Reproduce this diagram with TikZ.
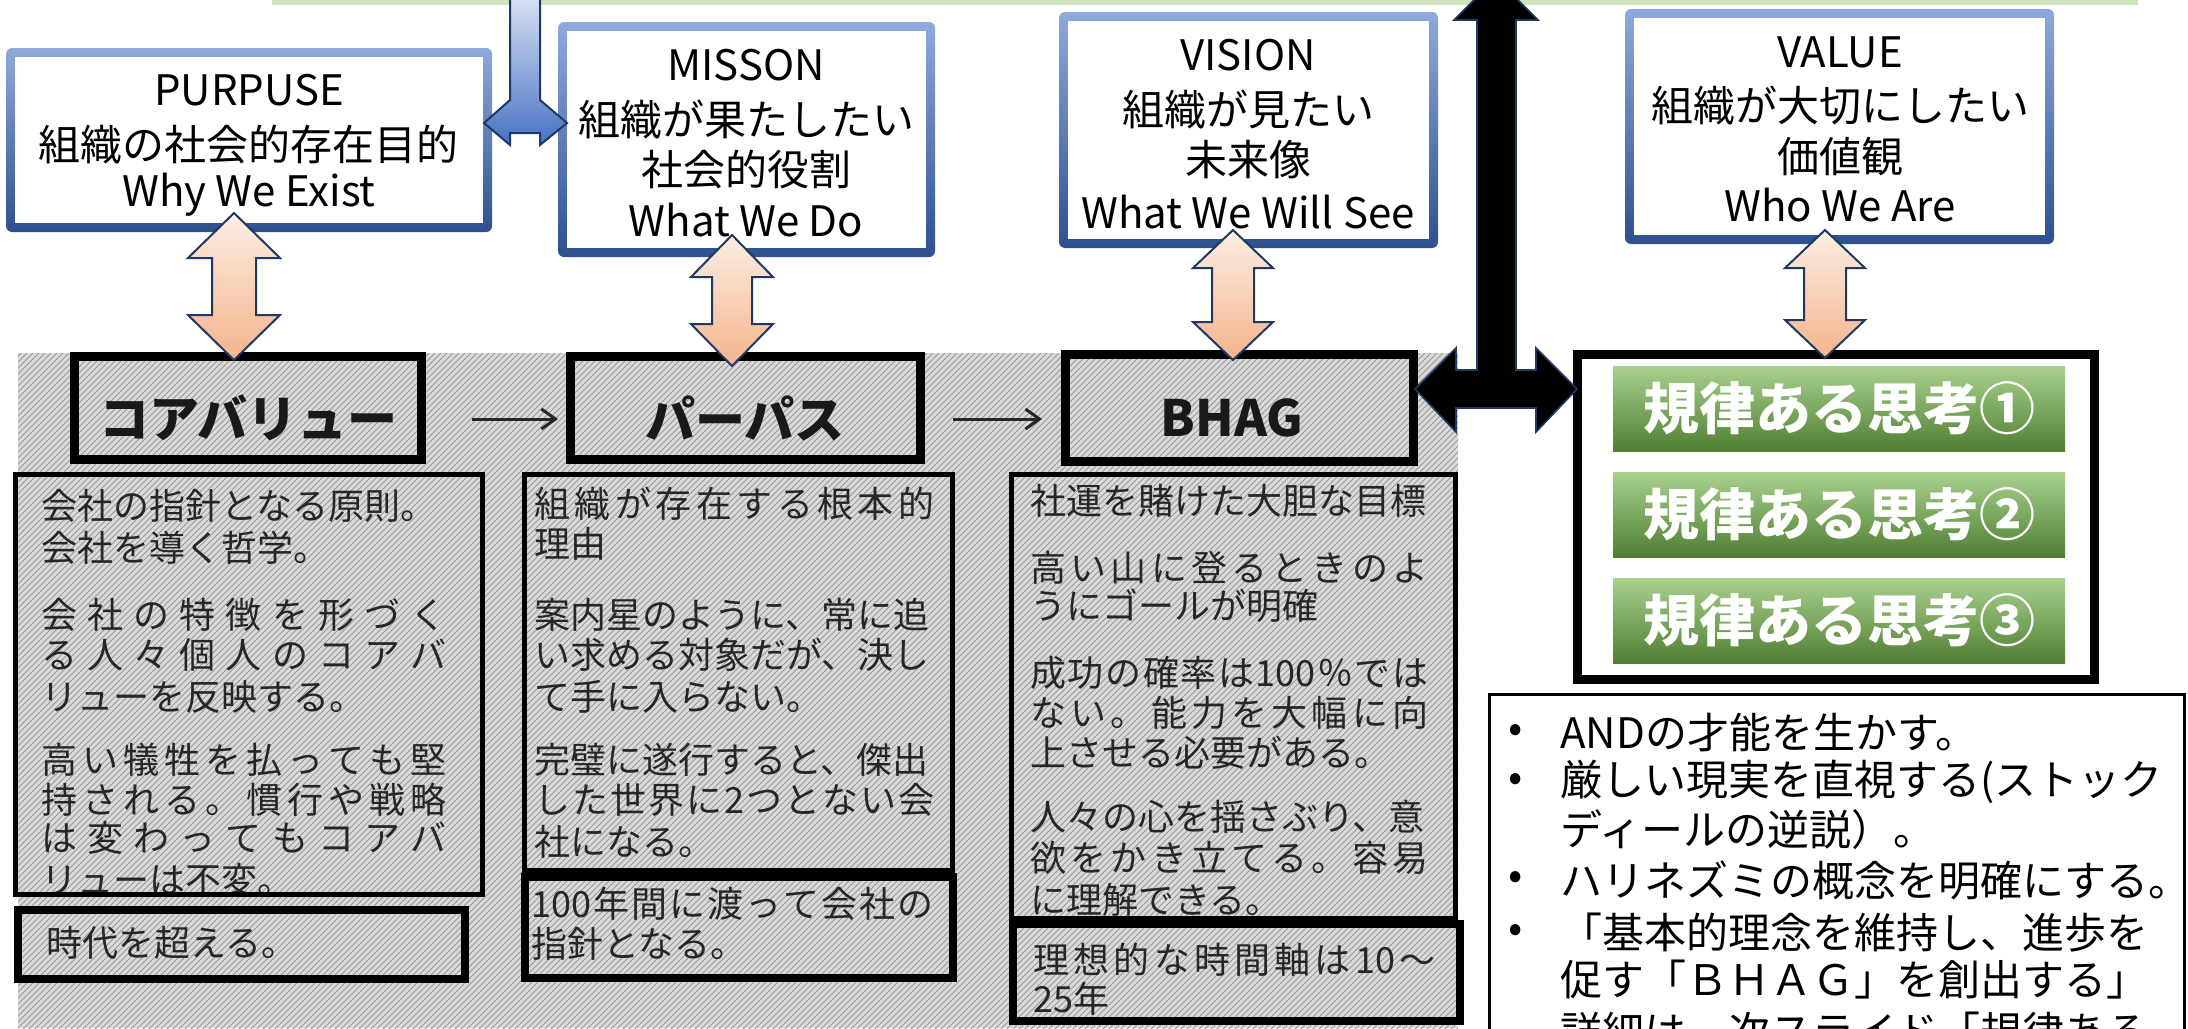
\documentclass[tikz,border=0pt]{standalone}
\usepackage{fontspec}
\setmainfont{Noto Sans CJK JP}
\usetikzlibrary{patterns,fit,arrows.meta}
\definecolor{stripgreen}{RGB}{205,228,190}
\definecolor{bTop}{RGB}{143,170,220}
\definecolor{bMid}{RGB}{72,114,196}
\definecolor{bBot}{RGB}{46,80,143}
\definecolor{orTop}{RGB}{252,238,228}
\definecolor{orBot}{RGB}{244,180,140}
\definecolor{navy}{RGB}{31,56,100}
\definecolor{ltBlue}{RGB}{222,230,245}
\definecolor{gTop}{RGB}{169,209,142}
\definecolor{gMid}{RGB}{112,173,71}
\definecolor{gBot}{RGB}{80,126,50}
\definecolor{texbase}{RGB}{218,218,218}
\def\spreadfirst#1{#1\spreadrest}
\def\spreadrest#1{\ifx\relax#1\else\hfill#1\expandafter\spreadrest\fi}
\newcommand\spreadtext[2]{\makebox[#1][s]{\spreadfirst#2\relax}}
\newcommand\bluebox[4]{%
  \shade[rounded corners=3pt, top color=bTop, middle color=bMid, bottom color=bBot] (#1,#2) rectangle (#3,#4);
  \fill[white] (#1+9,#2+9) rectangle (#3-9,#4-9);}
\newcommand\vdarrow[6]{% cx, top, bottom, headhalf, shafthalf, headlen
  \shade[orangearrow] (#1,#2) -- (#1+#4,#2+#6) -- (#1+#5,#2+#6) -- (#1+#5,#3-#6) -- (#1+#4,#3-#6) -- (#1,#3)
   -- (#1-#4,#3-#6) -- (#1-#5,#3-#6) -- (#1-#5,#2+#6) -- (#1-#4,#2+#6) -- cycle;}
\begin{document}
\begin{tikzpicture}[x=0.5pt,y=-0.5pt,
  titlebox/.style={draw=black, line width=4.5pt, inner sep=0pt},
  descbox/.style={draw=black, line width=2.5pt, inner sep=0pt},
  subbox/.style={draw=black, line width=4pt, inner sep=0pt},
  groupbox/.style={draw=black, fill=white, line width=4.5pt, inner sep=0pt},
  bulletbox/.style={draw=black, fill=white, line width=1.5pt, inner sep=0pt},
  greenbar/.style={top color=gTop, middle color=gMid, bottom color=gBot, inner sep=0pt},
  btxt/.style={font=\fontsize{21pt}{25pt}\selectfont, inner sep=0pt},
  ttl/.style={font=\fontsize{25pt}{30pt}\selectfont\bfseries, inner sep=0pt, text=black!90},
  ctxt/.style={font=\fontsize{18pt}{22pt}\selectfont, inner sep=0pt, anchor=west, text=black!85},
  gtxt/.style={font=\fontsize{28pt}{34pt}\selectfont\bfseries, text=white, inner sep=0pt},
  ltxt/.style={font=\fontsize{21pt}{25pt}\selectfont, inner sep=0pt, anchor=west},
  orangearrow/.style={top color=orTop, bottom color=orBot, draw=navy, line width=1pt},
  flow/.style={line width=1.5pt, black!85, -{Straight Barb[length=7pt,width=10pt]}}]
\useasboundingbox (0,0) rectangle (2188,1028);
\begin{scope}
\clip (0,0) rectangle (2188,1028);
% top strip
\fill[stripgreen] (272,0) rectangle (2138,5);
% texture
\fill[texbase] (18,353) rectangle (1458,1028);
\fill[pattern=north east lines, pattern color=gray!80] (18,353) rectangle (1458,1028);
% blue boxes
\bluebox{6}{48}{492}{232}
\bluebox{558}{22}{935}{257}
\bluebox{1059}{12}{1438}{248}
\bluebox{1625}{9}{2054}{244}
\node[btxt] (pu1) at (249,90) {PURPUSE};
\node[btxt] (pu2) at (249,145) {組織の社会的存在目的};
\node[btxt] (pu3) at (249,195) {Why We Exist};
\node[btxt] (mi1) at (746,65) {MISSON};
\node[btxt] (mi2) at (746,120) {組織が果たしたい};
\node[btxt] (mi3) at (746,170) {社会的役割};
\node[btxt] (mi4) at (746,220) {What We Do};
\node[btxt] (vi1) at (1248,55) {VISION};
\node[btxt] (vi2) at (1248,110) {組織が見たい};
\node[btxt] (vi3) at (1248,160) {未来像};
\node[btxt] (vi4) at (1248,212) {What We Will See};
\node[btxt] (va1) at (1840,52) {VALUE};
\node[btxt] (va2) at (1840,106) {組織が大切にしたい};
\node[btxt] (va3) at (1840,157) {価値観};
\node[btxt] (va4) at (1840,205) {Who We Are};
% description texts
\node[ctxt] (a1) at (41,506) {会社の指針となる原則。};
\node[ctxt] (a2) at (41,548) {会社を導く哲学。};
\node[ctxt] (a3) at (41,615) {\spreadtext{202.5pt}{会社の特徴を形づく}};
\node[ctxt] (a4) at (41,655) {\spreadtext{202.5pt}{る人々個人のコアバ}};
\node[ctxt] (a5) at (41,697) {リューを反映する。};
\node[ctxt] (a6) at (41,760) {\spreadtext{202.5pt}{高い犠牲を払っても堅}};
\node[ctxt] (a7) at (41,800) {\spreadtext{202.5pt}{持される。慣行や戦略}};
\node[ctxt] (a8) at (41,838) {\spreadtext{202.5pt}{は変わってもコアバ}};
\node[ctxt] (a9) at (41,880) {リューは不変。};
\node[ctxt] (a10) at (46,943) {時代を超える。};
\node[ctxt] (b1) at (534,504) {\spreadtext{200pt}{組織が存在する根本的}};
\node[ctxt] (b2) at (534,544) {理由};
\node[ctxt] (b3) at (534,615) {案内星のように、常に追};
\node[ctxt] (b4) at (534,655) {い求める対象だが、決し};
\node[ctxt] (b5) at (534,697) {て手に入らない。};
\node[ctxt] (b6) at (534,760) {完璧に遂行すると、傑出};
\node[ctxt] (b7) at (534,800) {\spreadtext{200pt}{した世界に2つとない会}};
\node[ctxt] (b8) at (534,842) {社になる。};
\node[ctxt] (b9) at (531,904) {\spreadtext{201pt}{{100}年間に渡って会社の}};
\node[ctxt] (b10) at (531,944) {指針となる。};
\node[ctxt] (c1) at (1030,501) {社運を賭けた大胆な目標};
\node[ctxt] (c2) at (1030,568) {\spreadtext{199pt}{高い山に登るときのよ}};
\node[ctxt] (c3) at (1030,606) {うにゴールが明確};
\node[ctxt] (c4) at (1030,673) {\spreadtext{199pt}{成功の確率は{100}％では}};
\node[ctxt] (c5) at (1030,713) {\spreadtext{199pt}{ない。能力を大幅に向}};
\node[ctxt] (c6) at (1030,753) {上させる必要がある。};
\node[ctxt] (c7) at (1030,817) {人々の心を揺さぶり、意};
\node[ctxt] (c8) at (1030,858) {\spreadtext{199pt}{欲をかき立てる。容易}};
\node[ctxt] (c9) at (1030,900) {に理解できる。};
\node[ctxt] (c10) at (1033,960) {\spreadtext{201pt}{理想的な時間軸は{10}～}};
\node[ctxt] (c11) at (1033,999) {25年};
% boxes in the textured area
\node[titlebox, fit={(74.5,356.5)(421.5,459.5)}] (cv) {};
\node[titlebox, fit={(570.5,356.5)(920.5,459.5)}] (pp) {};
\node[titlebox, fit={(1065.5,354.5)(1413.5,461.5)}] (bh) {};
\node[ttl] (cvt) at (248,418) {コアバリュー};
\node[ttl] (ppt) at (745,418) {パーパス};
\node[ttl] (bht) at (1232,418) {BHAG};
\node[descbox, fit={(15.5,474.5)(482.5,894.5)}] (d1) {};
\node[descbox, fit={(524.5,474.5)(952.5,870.5)}] (d2) {};
\node[descbox, fit={(1011.5,474.5)(1455.5,918.5)}] (d3) {};
\node[subbox, fit={(18,910)(465,979)}] (s1) {};
\node[subbox, fit={(525,877)(953,978)}] (s2) {};
\node[subbox, fit={(1013,924)(1460,1021)}] (s3) {};
\draw[flow, shorten <=23pt, shorten >=4pt] ([yshift=-5.5pt]cv.east) -- ([yshift=-5.5pt]pp.west);
\draw[flow, shorten <=14pt, shorten >=9.5pt] ([yshift=-5.5pt]pp.east) -- ([yshift=-5.5pt]bh.west);
% green group
\node[groupbox, fit={(1577.5,354.5)(2094.5,679.5)}] (grp) {};
\node[greenbar, fit={(1613,366)(2065,451)}] (g1) {};
\node[greenbar, fit={(1613,472)(2065,557)}] (g2) {};
\node[greenbar, fit={(1613,578)(2065,663)}] (g3) {};
\node[gtxt] (g1t) at (g1.center) {規律ある思考①};
\node[gtxt] (g2t) at (g2.center) {規律ある思考②};
\node[gtxt] (g3t) at (g3.center) {規律ある思考③};
% bullet box
\node[bulletbox, fit={(1489.5,694.5)(2184.5,1045)}] (bl) {};
\node[btxt] (k1) at (1516,733) {•};
\node[btxt] (k2) at (1516,782) {•};
\node[btxt] (k3) at (1516,880) {•};
\node[btxt] (k4) at (1516,933) {•};
\node[ltxt] (t1) at (1560,733) {ANDの才能を生かす。};
\node[ltxt] (t2) at (1560,782) {厳しい現実を直視する(ストック};
\node[ltxt] (t3) at (1560,830) {ディールの逆説）。};
\node[ltxt] (t4) at (1560,880) {ハリネズミの概念を明確にする。};
\node[ltxt] (t5) at (1560,933) {「基本的理念を維持し、進歩を};
\node[ltxt] (t6) at (1560,980) {促す「ＢＨＡＧ」を創出する」};
\node[ltxt] (t7) at (1560,1031) {詳細は、次スライド「規律ある};
% orange double arrows
\vdarrow{234}{213}{360}{46}{22}{45}
\vdarrow{732}{235}{366}{41}{20}{42}
\vdarrow{1233}{230}{360}{40}{21}{38}
\vdarrow{1825}{230}{358}{40}{21}{38}
% blue T arrow
\shade[top color=ltBlue, bottom color=bMid, draw=navy, line width=1pt]
  (510,-10) -- (510,100) -- (484,123) -- (510,145) -- (510,133) -- (540,133) -- (540,145)
  -- (567,123) -- (540,100) -- (540,-10) -- cycle;
% black T arrow
\fill[black, draw=navy, line width=0.8pt]
  (1496,-22) -- (1538,20) -- (1516,20) -- (1516,370) -- (1536,370) -- (1536,348) -- (1577,389)
  -- (1536,432) -- (1536,408) -- (1456,408) -- (1456,432) -- (1415,389) -- (1456,348)
  -- (1456,370) -- (1477,370) -- (1477,20) -- (1454,20) -- cycle;
\end{scope}
\end{tikzpicture}
\end{document}
